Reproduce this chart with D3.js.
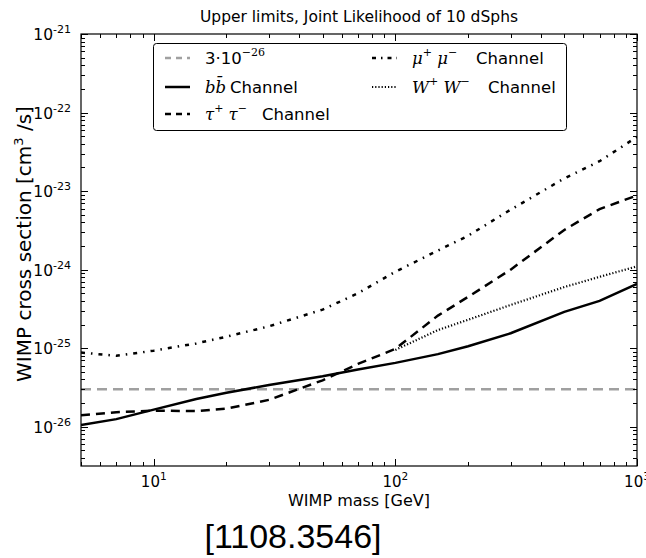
<!DOCTYPE html>
<html><head><meta charset="utf-8">
<script src="https://cdn.jsdelivr.net/npm/d3@7"></script>
<style>body{margin:0;background:#fff}svg{display:block}</style>
</head><body><svg id="c" width="646" height="558"></svg>
<script>
const masses = [5, 7, 10, 15, 20, 30, 50, 70, 100, 150, 200, 300, 500, 700, 1000];
const bbValues = [1.05e-26, 1.25e-26, 1.65e-26, 2.25e-26, 2.7e-26, 3.4e-26, 4.4e-26, 5.35e-26, 6.5e-26, 8.4e-26, 1.06e-25, 1.55e-25, 2.9e-25, 4.0e-25, 6.6e-25];
const tauValues = [1.4e-26, 1.53e-26, 1.6e-26, 1.58e-26, 1.7e-26, 2.2e-26, 3.9e-26, 6.3e-26, 9.8e-26, 2.6e-25, 4.5e-25, 1.0e-24, 3.2e-24, 5.9e-24, 8.8e-24];
const muValues = [8.8e-26, 8.0e-26, 9.3e-26, 1.15e-25, 1.4e-25, 1.9e-25, 3.1e-25, 5.0e-25, 9.4e-25, 1.75e-24, 2.7e-24, 5.8e-24, 1.45e-23, 2.4e-23, 4.9e-23];
const wwMasses = [100, 150, 200, 300, 500, 700, 1000];
const wwValues = [9.5e-26, 1.7e-25, 2.3e-25, 3.55e-25, 6.0e-25, 8.1e-25, 1.1e-24];
const refValue = 3e-26;
const xTickLabels = ["1", "2", "3"];
const yTickLabels = ["-26", "-25", "-24", "-23", "-22", "-21"];

const svg = d3.select("#c");
const L = 81, R = 637, T = 34, B = 466;
const x = d3.scaleLog().domain([5, 1000]).range([L, R]);
const y = d3.scaleLog().domain([Math.pow(10, -26.5), 1e-21]).range([B, T]);
const font = "DejaVu Sans";

// lines
const line = d3.line().x(d => x(d[0])).y(d => y(d[1]));
const plot = svg.append("g");
plot.append("clipPath").attr("id", "clip").append("rect").attr("x", L).attr("y", T).attr("width", R - L).attr("height", B - T);
const pg = plot.append("g").attr("clip-path", "url(#clip)");
pg.append("path").datum([[5, refValue], [1000, refValue]]).attr("d", line)
  .attr("fill", "none").attr("stroke", "#a0a0a0").attr("stroke-width", 2.5).attr("stroke-dasharray", "10,6");
pg.append("path").datum(masses.map((m, i) => [m, muValues[i]])).attr("d", line)
  .attr("fill", "none").attr("stroke", "#000").attr("stroke-width", 2.5).attr("stroke-dasharray", "4,6,1.5,6");
pg.append("path").datum(wwMasses.map((m, i) => [m, wwValues[i]])).attr("d", line)
  .attr("fill", "none").attr("stroke", "#000").attr("stroke-width", 2.2).attr("stroke-dasharray", "1.2,2");
pg.append("path").datum(masses.map((m, i) => [m, tauValues[i]])).attr("d", line)
  .attr("fill", "none").attr("stroke", "#000").attr("stroke-width", 2.5).attr("stroke-dasharray", "9,6");
pg.append("path").datum(masses.map((m, i) => [m, bbValues[i]])).attr("d", line)
  .attr("fill", "none").attr("stroke", "#000").attr("stroke-width", 2.5);

// frame
svg.append("rect").attr("x", L).attr("y", T).attr("width", R - L).attr("height", B - T)
  .attr("fill", "none").attr("stroke", "#000").attr("stroke-width", 1.2);

// ticks
const xMajor = [10, 100, 1000];
const xMinor = [];
[1, 10, 100].forEach(d => { for (let k = 2; k <= 9; k++) { const v = k * d; if (v >= 5 && v <= 1000 && v !== 10 && v !== 100 && v !== 1000) xMinor.push(v); } });
const yMajor = [1e-26, 1e-25, 1e-24, 1e-23, 1e-22, 1e-21];
const yMinor = [];
for (let e = -27; e <= -22; e++) for (let k = 2; k <= 9; k++) { const v = k * Math.pow(10, e); if (v >= Math.pow(10, -26.5) && v <= 1e-21) yMinor.push(v); }
const tk = svg.append("g").attr("stroke", "#000").attr("stroke-width", 1);
xMajor.forEach(v => { const px = Math.round(x(v)) + 0.5; tk.append("line").attr("x1", px).attr("x2", px).attr("y1", B).attr("y2", B - 7); tk.append("line").attr("x1", px).attr("x2", px).attr("y1", T).attr("y2", T + 7); });
xMinor.forEach(v => { const px = Math.round(x(v)) + 0.5; tk.append("line").attr("x1", px).attr("x2", px).attr("y1", B).attr("y2", B - 4); tk.append("line").attr("x1", px).attr("x2", px).attr("y1", T).attr("y2", T + 4); });
yMajor.forEach(v => { const py = Math.round(y(v)) + 0.5; tk.append("line").attr("x1", L).attr("x2", L + 7).attr("y1", py).attr("y2", py); tk.append("line").attr("x1", R).attr("x2", R - 7).attr("y1", py).attr("y2", py); });
yMinor.forEach(v => { const py = Math.round(y(v)) + 0.5; tk.append("line").attr("x1", L).attr("x2", L + 4).attr("y1", py).attr("y2", py); tk.append("line").attr("x1", R).attr("x2", R - 4).attr("y1", py).attr("y2", py); });

// tick labels
xMajor.forEach((v, i) => {
  const t = svg.append("text").attr("x", x(v)).attr("y", B + 21).attr("text-anchor", "middle")
    .attr("font-family", font).attr("font-size", 15).attr("fill", "#000");
  t.append("tspan").text("10");
  t.append("tspan").attr("dy", -7).attr("font-size", 10.5).text(xTickLabels[i]);
});
yMajor.forEach((v, i) => {
  const t = svg.append("text").attr("x", 71).attr("y", y(v) + 6).attr("text-anchor", "end")
    .attr("font-family", font).attr("font-size", 15.5).attr("fill", "#000");
  t.append("tspan").text("10");
  t.append("tspan").attr("dy", -7).attr("font-size", 11).text(yTickLabels[i]);
});

// title and axis labels
svg.append("text").attr("x", (L + R) / 2).attr("y", 22).attr("text-anchor", "middle")
  .attr("font-family", font).attr("font-size", 15.5).text("Upper limits, Joint Likelihood of 10 dSphs");
svg.append("text").attr("x", (L + R) / 2).attr("y", 506).attr("text-anchor", "middle")
  .attr("font-family", font).attr("font-size", 16).text("WIMP mass [GeV]");
const yl = svg.append("text").attr("transform", `translate(31,${(T + B) / 2 - 6}) rotate(-90)`).attr("text-anchor", "middle")
  .attr("font-family", font).attr("font-size", 20);
yl.append("tspan").text("WIMP cross section [cm");
yl.append("tspan").attr("dy", -8).attr("font-size", 13).text("3");
yl.append("tspan").attr("dy", 8).text(" /s]");
svg.append("text").attr("x", 293).attr("y", 548).attr("text-anchor", "middle")
  .attr("font-family", "Liberation Sans").attr("font-size", 34).text("[1108.3546]");

// legend
const lg = svg.append("g");
lg.append("rect").attr("x", 153.5).attr("y", 43.5).attr("width", 413).attr("height", 87).attr("rx", 3)
  .attr("fill", "#fff").attr("stroke", "#000").attr("stroke-width", 1);
const legendItems = [
  { col: 0, row: 0, stroke: "#a0a0a0", w: 2.5, dash: "6,5", parts: [["3·10", "n"], ["−26", "sup"]], chX: null },
  { col: 0, row: 1, stroke: "#000", w: 2.5, dash: null, parts: [["b", "it"], ["b̄", "it"]], chX: 230 },
  { col: 0, row: 2, stroke: "#000", w: 2.5, dash: "6,5", parts: [["τ", "it"], ["+", "sup"], [" τ", "it"], ["−", "sup"]], chX: 262 },
  { col: 1, row: 0, stroke: "#000", w: 2.5, dash: "4,5,1.5,5", parts: [["μ", "it"], ["+", "sup"], [" μ", "it"], ["−", "sup"]], chX: 476 },
  { col: 1, row: 1, stroke: "#000", w: 1.8, dash: "1.2,2", parts: [["W", "it"], ["+", "sup"], [" W", "it"], ["−", "sup"]], chX: 488 }
];
const colX = [165, 372], rowY = [58, 87, 114];
legendItems.forEach(it => {
  const x0 = colX[it.col], yy = rowY[it.row];
  const ln = lg.append("line").attr("x1", x0).attr("x2", x0 + 25).attr("y1", yy).attr("y2", yy)
    .attr("stroke", it.stroke).attr("stroke-width", it.w);
  if (it.dash) ln.attr("stroke-dasharray", it.dash);
  const t = lg.append("text").attr("x", x0 + 40).attr("y", yy + 6).attr("font-family", font).attr("font-size", 16.5);
  let up = false;
  it.parts.forEach(([s, k]) => {
    const ts = t.append("tspan").text(s);
    if (k === "it") ts.attr("font-family", "DejaVu Serif").attr("font-style", "italic");
    if (k === "sup") { ts.attr("font-size", 11).attr("font-family", "DejaVu Serif"); if (!up) { ts.attr("dy", -8); up = true; } }
    else if (up) { ts.attr("dy", 8); up = false; }
  });
  if (it.chX !== null) {
    lg.append("text").attr("x", it.chX).attr("y", yy + 6).attr("font-family", font).attr("font-size", 16.5).text("Channel");
  }
});
</script></body></html>
